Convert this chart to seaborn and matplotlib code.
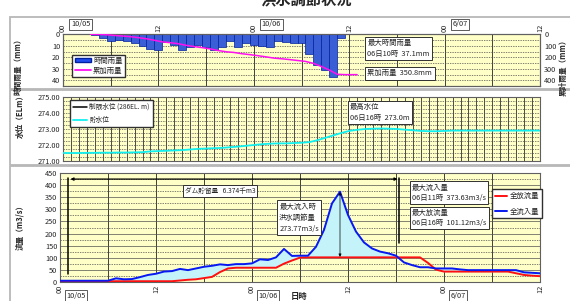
import numpy as np
import matplotlib
matplotlib.use("Agg")
import matplotlib.pyplot as plt
import matplotlib.transforms as mtransforms
from matplotlib.patches import Rectangle, Patch
from matplotlib.lines import Line2D
import seaborn as sns

# hours counted from 10/05 00:00
rain_hours = list(range(4, 36))
rain_mm = [1, 3, 6, 5, 6, 8, 10, 13, 14,
           7, 9, 14, 11, 9, 11, 14, 11, 6, 11, 8, 9, 10, 11, 6, 7,
           8, 8, 17, 27, 31, 37.1, 3]

level_hours = list(range(0, 61))
level_m = [271.50, 271.50, 271.50, 271.51, 271.51, 271.52, 271.52, 271.53, 271.53, 271.54, 271.55,
           271.60, 271.62, 271.64, 271.66, 271.68, 271.72, 271.76, 271.78, 271.80, 271.82,
           271.86, 271.90, 271.95, 272.00, 272.05, 272.08, 272.10, 272.10, 272.12, 272.14,
           272.18, 272.30, 272.45, 272.60, 272.75, 272.88, 272.95, 273.00, 273.02, 273.03,
           273.02, 273.00, 272.96, 272.92, 272.88, 272.86, 272.86, 272.88, 272.90, 272.90,
           272.90, 272.90, 272.90, 272.90, 272.90, 272.90, 272.90, 272.90, 272.90, 272.90]

flow_hours = list(range(0, 61))
inflow = [4, 4, 4, 4, 4, 4, 4, 14, 10, 11, 19, 28, 33, 42, 44, 53, 48, 55, 62, 66, 72,
          69, 73, 73, 76, 93, 90, 101, 136, 107, 108, 108, 145, 215, 325, 373.63, 277, 208, 163, 138, 125,
          118, 108, 80, 69, 60, 60, 55, 55, 55, 51, 48, 48, 48, 48, 48, 48, 48, 39, 37, 35]
outflow = [2, 2, 2, 2, 2, 2, 2, 2, 2, 2, 2, 2, 2, 2, 2, 5, 8, 10, 15, 20, 40,
           55, 58, 58, 58, 58, 58, 58, 75, 88, 100, 101, 101, 101, 101, 101, 101, 101, 101, 101, 101.12,
           101, 101, 101, 101, 101, 78, 50, 42, 42, 42, 42, 42, 42, 42, 42, 42, 35, 28, 25, 23]

tick_hours = [0, 12, 24, 36, 48, 60]
tick_labels = ["00", "12", "00", "12", "00", "12"]
date_hours = [0, 24, 48]
date_labels = ["10/05", "10/06", "6/07"]

sns.set_style("white")
plt.rcParams["font.family"] = ["Noto Sans CJK JP", "DejaVu Sans"]

W, H = 570, 301
fig = plt.figure(figsize=(5.7, 3.01), dpi=100)


def fr(x0, y0, x1, y1):
    return [x0 / W, 1 - y1 / H, (x1 - x0) / W, (y1 - y0) / H]


# panel frames
for y0, y1 in [(17, 89), (90, 165), (166, 305)]:
    fig.add_artist(Rectangle((10 / W, 1 - y1 / H), 600 / W, (y1 - y0) / H,
                             transform=fig.transFigure, fill=False, ec="#b8b8b8", lw=1.3))

fig.text(306 / W, 1 + 1 / H, "洪水調節状況", ha="center", va="center", fontsize=11, weight="bold")

bg = "#FFFFC8"
box = dict(boxstyle="square,pad=0.3", fc="white", ec="#303030", lw=0.7)
tfs = 5.3

ax1 = fig.add_axes(fr(63, 34.3, 540, 86))
ax2 = fig.add_axes(fr(63, 97, 540, 161))
ax3 = fig.add_axes(fr(60, 173.3, 540, 281.7))

for ax in (ax1, ax2, ax3):
    ax.set_facecolor(bg)
    ax.set_xlim(0, 60)
    for s in ax.spines.values():
        s.set_color("#606060")
        s.set_linewidth(0.8)
    ax.tick_params(labelsize=tfs, length=0, pad=2)

# ---- rainfall panel
for h in range(6, 60, 6):
    ax1.axvline(h, color="#404040", lw=0.7, zorder=0)
for v in range(5, 45, 5):
    ax1.axhline(v, color="#505050", lw=0.5, ls=(0, (2, 1.5)), zorder=0)
sns.barplot(x=rain_hours, y=rain_mm, native_scale=True, width=1, color="#2050F0",
            edgecolor="#0020A0", linewidth=0.5, ax=ax1, zorder=2)
ax1.set_ylim(45, 0)
ax1.set_yticks([0, 10, 20, 30, 40])
ax1.set_xlim(0, 60)
ax1.xaxis.tick_top()
ax1.set_xticks(tick_hours)
ax1.set_xticklabels(tick_labels, rotation=90)
ax1.set_xlabel("")
ax1.set_ylabel("")

cum = np.cumsum(rain_mm)
cum_x = [3.5] + [h + 0.5 for h in rain_hours] + [37]
cum_y = [0] + list(cum) + [cum[-1]]
ax1b = ax1.twinx()
sns.lineplot(x=cum_x, y=cum_y, color="#FF10F0", lw=1.1, ax=ax1b, zorder=3)
ax1b.set_ylim(450, 0)
ax1b.set_yticks([0, 100, 200, 300, 400])
ax1b.tick_params(labelsize=tfs, length=0, pad=3)
for s in ax1b.spines.values():
    s.set_color("#606060")
    s.set_linewidth(0.8)

ax1.legend(handles=[Patch(fc="#2050F0", ec="#0020A0", label="時間雨量"),
                    Line2D([], [], color="#FF10F0", lw=1.3, label="累加雨量")],
           loc="lower left", bbox_to_anchor=(0.012, 0.1), fontsize=tfs, frameon=True,
           fancybox=False, edgecolor="#303030", framealpha=1, handlelength=2.2,
           handleheight=0.6, borderpad=0.3, labelspacing=0.3, handletextpad=0.3).set_zorder(10)
ax1b.text(38.3, 4.3, "最大時間雨量\n06日10時  37.1mm", transform=ax1.transData, fontsize=tfs,
          va="top", ha="left", bbox=box, zorder=10, linespacing=1.4)
ax1b.text(38.3, 34.0, "累加雨量  350.8mm", transform=ax1.transData, fontsize=tfs,
          va="center", ha="left", bbox=box, zorder=10)

blend1 = mtransforms.blended_transform_factory(ax1.transData, ax1.transAxes)
for h, lab in zip(date_hours, date_labels):
    ax1.text(h + 1.0, 1.19, lab, transform=blend1, fontsize=tfs, va="center", ha="left",
             bbox=dict(boxstyle="square,pad=0.2", fc="white", ec="#404040", lw=0.6))

# ---- water level panel
for h in range(1, 60):
    ax2.axvline(h, color="#303030", lw=0.6, zorder=0)
for v in np.arange(271.25, 275, 0.25):
    ax2.axhline(v, color="#505050", lw=0.5, ls=(0, (2, 1.5)), zorder=0)
sns.lineplot(x=level_hours, y=level_m, color="#10F0F0", lw=1.3, ax=ax2, zorder=3)
ax2.set_ylim(271, 275)
ax2.set_yticks([271, 272, 273, 274, 275])
ax2.set_yticklabels([f"{v:.2f}" for v in [271, 272, 273, 274, 275]])
ax2.set_xticks([])
ax2.legend(handles=[Line2D([], [], color="black", lw=1.1, label="制限水位 (286EL. m)"),
                    Line2D([], [], color="#10F0F0", lw=1.3, label="貯水位")],
           loc="lower left", bbox_to_anchor=(0.008, 0.48), fontsize=4.8, frameon=True,
           fancybox=False, edgecolor="#303030", framealpha=1, handlelength=2.2,
           borderpad=0.4, labelspacing=0.8, handletextpad=0.3).set_zorder(10)
ax2.text(36.1, 274.6, "最高水位\n06日16時  273.0m", fontsize=tfs, va="top", ha="left",
         bbox=box, zorder=10, linespacing=1.4)

# ---- flow panel
for h in range(6, 60, 6):
    ax3.axvline(h, color="#404040", lw=0.7, zorder=0)
for v in range(25, 450, 25):
    ax3.axhline(v, color="#505050", lw=0.5, ls=(0, (2, 1.5)) if v % 50 else "-", zorder=0)
ax3.fill_between(flow_hours, outflow, inflow, where=np.array(inflow) >= np.array(outflow),
                 interpolate=True, color="#C4F4FA", zorder=1)
sns.lineplot(x=flow_hours, y=outflow, color="#FF1010", lw=1.4, ax=ax3, zorder=3)
sns.lineplot(x=flow_hours, y=inflow, color="#0818F0", lw=1.4, ax=ax3, zorder=4)
ax3.set_ylim(0, 450)
ax3.set_yticks(range(0, 451, 50))
ax3.set_xticks(tick_hours)
ax3.set_xticklabels(tick_labels, rotation=90)

blend3 = mtransforms.blended_transform_factory(ax3.transData, ax3.transAxes)
for h, lab in zip(date_hours, date_labels):
    ax3.text(h + 0.8, -0.128, lab, transform=blend3, fontsize=tfs, va="center", ha="left",
             bbox=dict(boxstyle="square,pad=0.2", fc="white", ec="#404040", lw=0.6))
ax3.text(29.9, -0.14, "日時", transform=blend3, fontsize=6, weight="bold", ha="center", va="center")

# flood period markers
ax3.plot([1, 1], [30, 430], color="black", lw=1.1, zorder=5)
ax3.plot([42.4, 42.4], [160, 430], color="black", lw=1.1, zorder=5)
ax3.annotate("", xy=(1.3, 426), xytext=(42.2, 426),
             arrowprops=dict(arrowstyle="<|-|>", lw=0.9, color="black", mutation_scale=4,
                             shrinkA=0, shrinkB=0), zorder=5)
ax3.annotate("", xy=(35, 372), xytext=(35, 103),
             arrowprops=dict(arrowstyle="<|-|>", lw=0.5, color="black", mutation_scale=4,
                             shrinkA=0, shrinkB=0), zorder=5)
ax3.text(15.6, 378, "ダム貯留量   6.374千m3", fontsize=4.8, va="center", ha="left", bbox=box, zorder=10)
ax3.text(27.4, 328, "最大流入時\n洪水調節量\n273.77m3/s", fontsize=tfs, va="top", ha="left",
         bbox=box, zorder=10, linespacing=1.5)
ax3.text(44.0, 407, "最大流入量\n06日11時  373.63m3/s", fontsize=tfs, va="top", ha="left",
         bbox=box, zorder=10, linespacing=1.4)
ax3.text(44.0, 303, "最大放流量\n06日16時  101.12m3/s", fontsize=tfs, va="top", ha="left",
         bbox=box, zorder=10, linespacing=1.4)
ax3.legend(handles=[Line2D([], [], color="#FF1010", lw=1.4, label="全放流量"),
                    Line2D([], [], color="#0818F0", lw=1.4, label="全流入量")],
           loc="lower left", bbox_to_anchor=(0.893, 0.55), fontsize=tfs, frameon=True,
           fancybox=False, edgecolor="#303030", framealpha=1, handlelength=1.6,
           borderpad=0.4, labelspacing=1.0, handletextpad=0.3).set_zorder(10)

# axis titles
fig.text(18 / W, 1 - 65 / H, "時間雨量（mm）", rotation=90, fontsize=5.5, weight="bold", ha="center", va="center")
fig.text(563 / W, 1 - 66 / H, "累計雨量（mm）", rotation=90, fontsize=5.5, weight="bold", ha="center", va="center")
fig.text(20 / W, 1 - 114 / H, "水位（ELm）", rotation=90, fontsize=5.5, weight="bold", ha="center", va="center")
fig.text(20 / W, 1 - 225 / H, "流量（m3/s）", rotation=90, fontsize=5.5, weight="bold", ha="center", va="center")

fig.savefig("out.png", dpi=100)
